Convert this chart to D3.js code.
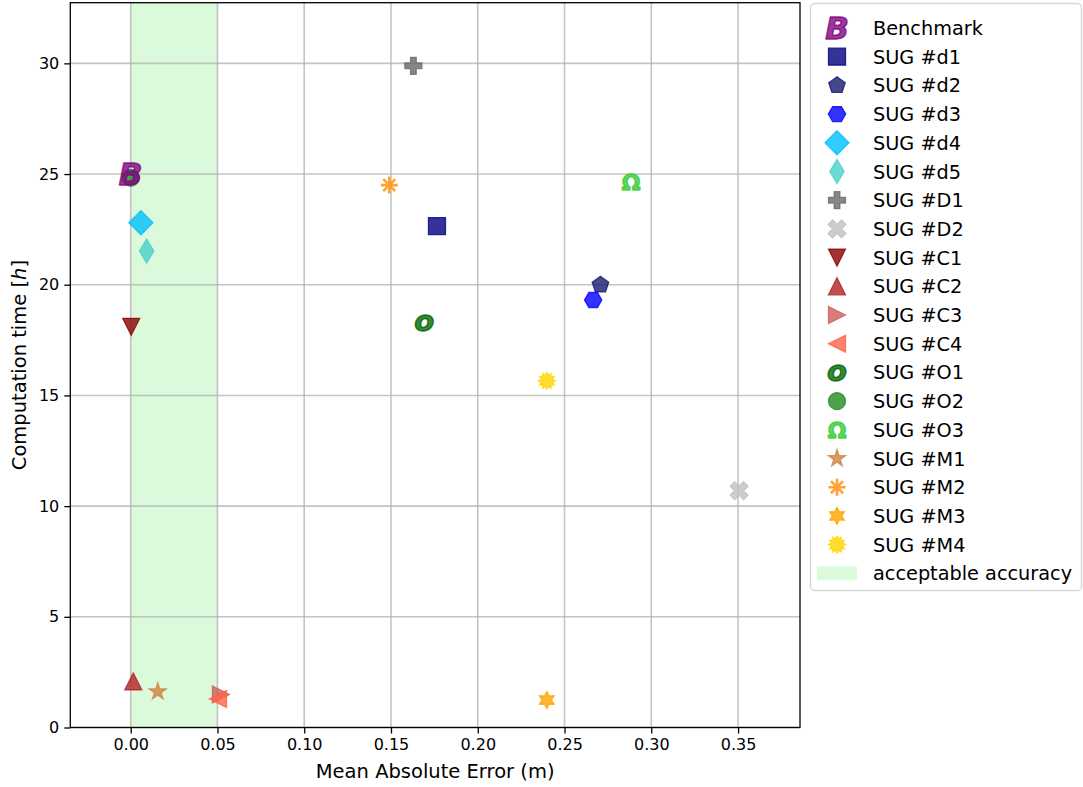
<!DOCTYPE html>
<html>
<head>
<meta charset="utf-8">
<script src="https://cdn.jsdelivr.net/npm/d3@7"></script>
<style>
  html, body { margin: 0; padding: 0; background: #fff; }
  svg { display: block; font-family: "DejaVu Sans", sans-serif; }
</style>
</head>
<body>
<svg id="chart" width="1083" height="787"></svg>
<script>
// Series (legend order)
const seriesNames = ["Benchmark", "SUG #d1", "SUG #d2", "SUG #d3", "SUG #d4", "SUG #d5",
  "SUG #D1", "SUG #D2", "SUG #C1", "SUG #C2", "SUG #C3", "SUG #C4",
  "SUG #O1", "SUG #O2", "SUG #O3", "SUG #M1", "SUG #M2", "SUG #M3", "SUG #M4"];
// Mean absolute error (m)
const maeValues = [0.000, 0.1765, 0.2707, 0.2665, 0.0059, 0.0092,
  0.1629, 0.3506, 0.0003, 0.0015, 0.0520, 0.0503,
  0.1692, 0.000, 0.2884, 0.0156, 0.1490, 0.2398, 0.2398];
// Computation time (h)
const timeValues = [24.99, 22.65, 19.99, 19.31, 22.80, 21.52,
  29.89, 10.70, 18.10, 2.08, 1.49, 1.29,
  18.28, 24.83, 24.65, 1.62, 24.50, 1.24, 15.66];

const xTicks = [0.00, 0.05, 0.10, 0.15, 0.20, 0.25, 0.30, 0.35];
const yTicks = [0, 5, 10, 15, 20, 25, 30];
const acceptableBand = [0.0, 0.05];

// Marker shape and colour per series
const markerShape = ["textB", "square", "pentagon", "hexagon", "diamond", "thindiamond",
  "plus", "xfilled", "tridown", "triup", "triright", "trileft",
  "texto", "circle", "textOmega", "star5", "asterisk", "star6", "star12"];
const markerColor = ["#800080", "#000080", "#191970", "#0000ff", "#00bfff", "#48d1cc",
  "#696969", "#c0c0c0", "#8b0000", "#b22222", "#cd5c5c", "#ff6347",
  "#006400", "#228b22", "#32cd32", "#cd853f", "#ff8c00", "#ffa500", "#ffd700"];
// Drawing order: the benchmark goes on top of everything else
const drawOrder = [1, 2, 3, 4, 5, 6, 7, 8, 9, 10, 11, 12, 13, 14, 15, 16, 17, 18, 0];

const svg = d3.select("#chart");
const plot = { left: 70.3, right: 800, top: 2.7, bottom: 727.5 };

const x = d3.scaleLinear().domain([-0.0348, 0.3857]).range([plot.left, plot.right]);
const y = d3.scaleLinear().domain([0, 32.74]).range([plot.bottom, plot.top]);

const MS = 17;          // marker size, px
const ALPHA = 0.8;

function polygon(pts) {
  return "M" + pts.map(p => p[0].toFixed(2) + "," + p[1].toFixed(2)).join("L") + "Z";
}
function regular(n, r, rot) {
  const pts = [];
  for (let i = 0; i < n; i++) {
    const a = rot + i * 2 * Math.PI / n;
    pts.push([r * Math.sin(a), -r * Math.cos(a)]);
  }
  return polygon(pts);
}
function starPath(n, r, inner, rot) {
  const pts = [];
  for (let i = 0; i < 2 * n; i++) {
    const a = rot + i * Math.PI / n;
    const rr = i % 2 === 0 ? r : r * inner;
    pts.push([rr * Math.sin(a), -rr * Math.cos(a)]);
  }
  return polygon(pts);
}
function plusPts(s) {
  const u = s / 6;
  return [[-1, -3], [1, -3], [1, -1], [3, -1], [3, 1], [1, 1], [1, 3], [-1, 3], [-1, 1], [-3, 1], [-3, -1], [-1, -1]]
    .map(p => [p[0] * u, p[1] * u]);
}

function shapePath(shape, s) {
  const h = s / 2;
  switch (shape) {
    case "square": return polygon([[-h, -h], [h, -h], [h, h], [-h, h]]);
    case "pentagon": return regular(5, h * 1.02, 0);
    case "hexagon": return regular(6, h * 1.02, Math.PI / 6);
    case "diamond": { const r = s * 0.707; return polygon([[0, -r], [r, 0], [0, r], [-r, 0]]); }
    case "thindiamond": { const r = s * 0.707; return polygon([[0, -r], [0.6 * r, 0], [0, r], [-0.6 * r, 0]]); }
    case "plus": return polygon(plusPts(s));
    case "xfilled": {
      const c = Math.SQRT1_2;
      return polygon(plusPts(s * 1.12).map(p => [c * (p[0] - p[1]), c * (p[0] + p[1])]));
    }
    case "triup": return polygon([[0, -h], [h, h], [-h, h]]);
    case "tridown": return polygon([[0, h], [h, -h], [-h, -h]]);
    case "triright": return polygon([[h, 0], [-h, -h], [-h, h]]);
    case "trileft": return polygon([[-h, 0], [h, -h], [h, h]]);
    case "circle": return `M${-h},0A${h},${h} 0 1,0 ${h},0A${h},${h} 0 1,0 ${-h},0Z`;
    case "star5": return starPath(5, h * 1.05, 0.381966, 0);
    case "star6": return starPath(6, h, 0.55, 0);
    case "star12": return starPath(12, h, 0.68, 0);
    case "asterisk": {
      let d = "";
      for (let i = 0; i < 4; i++) {
        const a = i * Math.PI / 4;
        const dx = h * Math.sin(a), dy = -h * Math.cos(a);
        d += `M${dx.toFixed(2)},${dy.toFixed(2)}L${(-dx).toFixed(2)},${(-dy).toFixed(2)}`;
      }
      return d;
    }
  }
  return "";
}

const textMarkers = {
  textB: { txt: "B", size: 31, italic: true, dy: 11.2 },
  texto: { txt: "o", size: 29, italic: true, dy: 8.2 },
  textOmega: { txt: "Ω", size: 22, italic: false, dy: 8 }
};

function drawMarker(g, shape, color, cx, cy) {
  if (textMarkers[shape]) {
    const t = textMarkers[shape];
    g.append("text")
      .attr("x", cx).attr("y", cy + t.dy)
      .attr("text-anchor", "middle")
      .attr("font-size", t.size)
      .attr("font-style", t.italic ? "italic" : "normal")
      .attr("font-weight", "bold")
      .attr("fill", color).attr("fill-opacity", ALPHA)
      .attr("stroke", color).attr("stroke-opacity", ALPHA).attr("stroke-width", 1.4)
      .attr("stroke-linejoin", "round")
      .text(t.txt);
    return;
  }
  const p = g.append("path")
    .attr("transform", `translate(${cx},${cy})`)
    .attr("d", shapePath(shape, MS));
  if (shape === "asterisk") {
    p.attr("fill", "none").attr("stroke", color).attr("stroke-opacity", ALPHA)
      .attr("stroke-width", 2.6).attr("stroke-linecap", "butt");
  } else {
    p.attr("fill", color).attr("fill-opacity", ALPHA)
      .attr("stroke", color).attr("stroke-opacity", ALPHA).attr("stroke-width", 1.3)
      .attr("stroke-linejoin", "miter");
  }
}

// Clip for the plotting area
svg.append("clipPath").attr("id", "plotclip")
  .append("rect").attr("x", plot.left).attr("y", plot.top)
  .attr("width", plot.right - plot.left).attr("height", plot.bottom - plot.top);

// Acceptable accuracy band
svg.append("rect")
  .attr("x", x(acceptableBand[0])).attr("y", plot.top)
  .attr("width", x(acceptableBand[1]) - x(acceptableBand[0]))
  .attr("height", plot.bottom - plot.top)
  .attr("fill", "#90ee90").attr("fill-opacity", 0.32);

// Grid
const grid = svg.append("g").attr("stroke", "#b0b0b0").attr("stroke-opacity", 0.75).attr("stroke-width", 1.6);
xTicks.forEach(t => grid.append("line").attr("x1", x(t)).attr("x2", x(t)).attr("y1", plot.top).attr("y2", plot.bottom));
yTicks.forEach(t => grid.append("line").attr("y1", y(t)).attr("y2", y(t)).attr("x1", plot.left).attr("x2", plot.right));

// Axes
const xAxis = d3.axisBottom(x).tickValues(xTicks).tickFormat(d3.format(".2f")).tickSizeInner(6).tickSizeOuter(0).tickPadding(5);
const yAxis = d3.axisLeft(y).tickValues(yTicks).tickFormat(d3.format("d")).tickSizeInner(6).tickSizeOuter(0).tickPadding(5);

const gx = svg.append("g").attr("transform", `translate(0,${plot.bottom})`).call(xAxis);
const gy = svg.append("g").attr("transform", `translate(${plot.left},0)`).call(yAxis);
[gx, gy].forEach(g => {
  g.selectAll("text").attr("font-size", 16).attr("fill", "#000").attr("font-family", "DejaVu Sans, sans-serif");
  g.selectAll("line").attr("stroke", "#000").attr("stroke-width", 1.3);
  g.select(".domain").remove();
});

// Frame
svg.append("rect")
  .attr("x", plot.left).attr("y", plot.top)
  .attr("width", plot.right - plot.left).attr("height", plot.bottom - plot.top)
  .attr("fill", "none").attr("stroke", "#000").attr("stroke-width", 1.3);

// Points
const pts = svg.append("g").attr("clip-path", "url(#plotclip)");
drawOrder.forEach(i => drawMarker(pts, markerShape[i], markerColor[i], x(maeValues[i]), y(timeValues[i])));

// Axis titles
svg.append("text")
  .attr("x", (plot.left + plot.right) / 2).attr("y", 778)
  .attr("text-anchor", "middle").attr("font-size", 19.5).attr("fill", "#000")
  .text("Mean Absolute Error (m)");

const yl = svg.append("text")
  .attr("transform", `translate(26,${(plot.top + plot.bottom) / 2}) rotate(-90)`)
  .attr("text-anchor", "middle").attr("font-size", 19.5).attr("fill", "#000");
yl.append("tspan").text("Computation time [");
yl.append("tspan").attr("font-style", "italic").text("h");
yl.append("tspan").text("]");

// Legend
const leg = svg.append("g");
leg.append("rect")
  .attr("x", 810.5).attr("y", 3.5).attr("width", 271).attr("height", 587)
  .attr("rx", 4).attr("fill", "#fff").attr("fill-opacity", 0.8)
  .attr("stroke", "#d6d6d6").attr("stroke-width", 1.3);

const legTop = 28, legStep = 28.7, legMarkX = 837, legTextX = 873;
seriesNames.forEach((name, i) => {
  const cy = legTop + i * legStep;
  drawMarker(leg, markerShape[i], markerColor[i], legMarkX, cy);
  leg.append("text").attr("x", legTextX).attr("y", cy + 7)
    .attr("font-size", 19.3).attr("fill", "#000").text(name);
});
{
  const cy = legTop + seriesNames.length * legStep;
  leg.append("rect").attr("x", 817).attr("y", cy - 7).attr("width", 40).attr("height", 14)
    .attr("fill", "#90ee90").attr("fill-opacity", 0.32);
  leg.append("text").attr("x", legTextX).attr("y", cy + 7)
    .attr("font-size", 19.3).attr("fill", "#000").text("acceptable accuracy");
}
</script>
</body>
</html>
